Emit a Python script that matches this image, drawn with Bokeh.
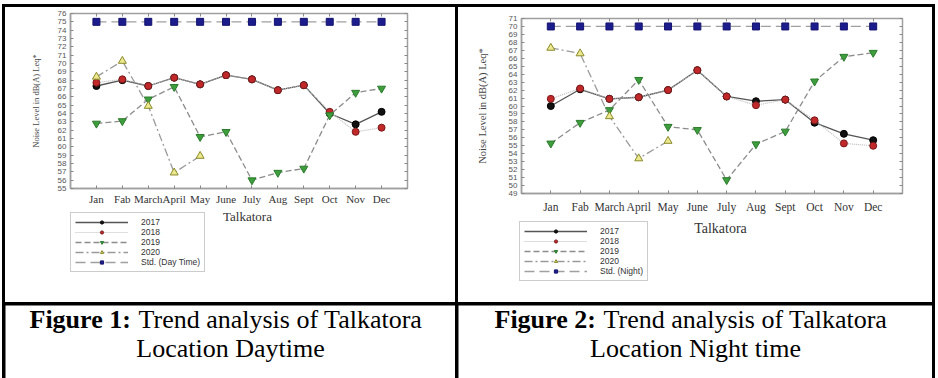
from bokeh.plotting import figure
from bokeh.layouts import row, column
from bokeh.models import (Legend, LegendItem, FixedTicker, Range1d, LinearAxis,
                          ColumnDataSource, Label)
from bokeh.embed import file_html
from bokeh.resources import INLINE

# ---- data -------------------------------------------------------------
months = ["Jan", "Fab", "March", "April", "May", "June", "July", "Aug",
          "Sept", "Oct", "Nov", "Dec"]
month_idx = list(range(1, 13))

# Daytime noise level, dB(A) Leq
day_2017 = [67.3, 68.0, 67.3, 68.3, 67.5, 68.6, 68.1, 66.8, 67.4, 64.0, 62.7, 64.2]
day_2018 = [67.7, 68.1, 67.3, 68.3, 67.5, 68.6, 68.1, 66.8, 67.4, 64.2, 61.8, 62.3]
day_2019 = [62.8, 63.1, 65.7, 67.2, 61.2, 61.8, 56.0, 56.9, 57.4, 63.8, 66.5, 67.0]
day_2020 = [68.4, 70.3, 64.9, 56.9, 58.9]
day_std = [75, 75, 75, 75, 75, 75, 75, 75, 75, 75, 75, 75]

# Night time noise level, dB(A) Leq
night_2017 = [60.0, 62.1, 60.9, 61.1, 62.0, 64.5, 61.2, 60.6, 60.8, 57.9, 56.5, 55.7]
night_2018 = [60.9, 62.2, 60.9, 61.1, 62.0, 64.5, 61.2, 60.1, 60.8, 58.2, 55.3, 55.0]
night_2019 = [55.3, 57.9, 59.5, 63.3, 57.4, 57.0, 50.7, 55.2, 56.8, 63.1, 66.2, 66.7]
night_2020 = [67.3, 66.6, 58.7, 53.4, 55.6]
night_std = [70, 70, 70, 70, 70, 70, 70, 70, 70, 70, 70, 70]

day_ticks = list(range(55, 77))
night_ticks = list(range(49, 72))

FRAME = "#a0a0a0"
SERIF = "Liberation Serif"
SANS = "Liberation Sans"
NAN = float("nan")


def series_styles(std_label):
    return [
        ("2017", dict(line_color="#555555", line_width=1.3),
         dict(marker="circle", size=7, fill_color="#111111",
              line_color="#000000")),
        ("2018", dict(line_color="#bdbdbd", line_width=1.2, line_dash="1 1"),
         dict(marker="circle", size=7, fill_color="#c0282a",
              line_color="#7a1a1a")),
        ("2019", dict(line_color="#8c8c8c", line_width=1.3, line_dash="6 3"),
         dict(marker="inverted_triangle", size=8, fill_color="#3e9e3e",
              line_color="#2a7a2a")),
        ("2020", dict(line_color="#9a9a9a", line_width=1.3,
                      line_dash="8 3 2 3"),
         dict(marker="triangle", size=8, fill_color="#ece88e",
              line_color="#8a8a2a")),
        (std_label, dict(line_color="#a0a0a0", line_width=1.3,
                         line_dash="10 5"),
         dict(marker="square", size=7, fill_color="#1c1c8c",
              line_color="#141470")),
    ]


def blank_figure(w, h):
    f = figure(width=w, height=h, x_range=(0, 1), y_range=(0, 1),
               toolbar_location=None, output_backend="svg",
               x_axis_type=None, y_axis_type=None, min_border=0,
               frame_align=False)
    f.grid.visible = False
    f.outline_line_color = None
    f.border_fill_color = "white"
    f.background_fill_color = "white"
    return f


def tick_only_axis(ticks):
    # draws only inward tick marks on the far side of the frame
    return LinearAxis(ticker=FixedTicker(ticks=ticks),
                      major_label_text_font_size="0px",
                      major_label_text_color=None,
                      major_tick_in=3, major_tick_out=0,
                      major_tick_line_color="#888888",
                      minor_tick_line_color=None, axis_line_color=None)


def trend_chart(w, h, borders, y_lo, y_hi, yticks, values, styles,
                xfont, ylab_font, ylab_standoff, xtick_standoff):
    left, top, right, bottom = borders
    p = figure(width=w, height=h, x_range=Range1d(0, 13),
               y_range=Range1d(y_lo, y_hi), toolbar_location=None,
               output_backend="svg", min_border_left=left,
               min_border_top=top, min_border_right=right,
               min_border_bottom=bottom, frame_align=False)
    p.grid.visible = False
    p.outline_line_color = FRAME
    p.outline_line_width = 1.5
    p.background_fill_color = "white"
    p.border_fill_color = "white"

    xax = p.xaxis[0]
    xax.ticker = FixedTicker(ticks=month_idx)
    xax.major_label_overrides = {i: m for i, m in zip(month_idx, months)}
    xax.major_label_text_font = SERIF
    xax.major_label_text_font_size = xfont
    xax.major_label_text_color = "#333333"
    xax.major_label_standoff = xtick_standoff

    yax = p.yaxis[0]
    yax.ticker = FixedTicker(ticks=yticks)
    yax.major_label_text_font = SANS
    yax.major_label_text_font_size = "8px"
    yax.major_label_text_color = "#555555"
    yax.major_label_standoff = 4
    yax.axis_label = "Noise Level in dB(A) Leq*"
    yax.axis_label_text_font = SERIF
    yax.axis_label_text_font_style = "normal"
    yax.axis_label_text_font_size = ylab_font
    yax.axis_label_text_color = "#444444"
    yax.axis_label_standoff = ylab_standoff

    for ax in (xax, yax):
        ax.axis_line_color = FRAME
        ax.axis_line_width = 1.5
        ax.major_tick_in = 3
        ax.major_tick_out = 0
        ax.major_tick_line_color = "#888888"
        ax.minor_tick_line_color = None

    p.add_layout(tick_only_axis(month_idx), "above")
    p.add_layout(tick_only_axis(yticks), "right")

    for vals, (_, line_kw, mark_kw) in zip(values, styles):
        src = ColumnDataSource(dict(x=month_idx[:len(vals)], y=vals))
        p.line("x", "y", source=src, **line_kw)
        p.scatter("x", "y", source=src, **mark_kw)
    return p


def key_panel(w, h, styles, loc, glyph_w, pad, font,
              title_x, title_y, title_font):
    # legend swatches and the x-axis title that sit under a chart
    k = blank_figure(w, h)
    items = []
    for label, line_kw, mark_kw in styles:
        src = ColumnDataSource(dict(x=[NAN], y=[NAN]))
        lr = k.line("x", "y", source=src, **line_kw)
        mr = k.scatter("x", "y", source=src, **mark_kw)
        items.append(LegendItem(label=label, renderers=[lr, mr]))
    k.add_layout(Legend(items=items, location=loc, glyph_width=glyph_w,
                        glyph_height=8, label_height=8, spacing=0,
                        padding=pad, margin=0, label_standoff=13,
                        label_text_font=SANS, label_text_font_size=font,
                        label_text_color="#333333",
                        label_text_line_height=1.0,
                        border_line_color="#999999", border_line_width=1,
                        background_fill_color="white",
                        background_fill_alpha=1))
    k.add_layout(Label(x=title_x, y=title_y, x_units="screen",
                       y_units="screen", text="Talkatora", text_font=SERIF,
                       text_font_size=title_font, text_color="#333333",
                       text_align="center", text_baseline="alphabetic"))
    return k


day_styles = series_styles("Std. (Day Time)")
night_styles = series_styles("Std. (Night)")

p_day = trend_chart(
    450, 203, (65, 6, 48, 22), 55, 76, day_ticks,
    [day_2017, day_2018, day_2019, day_2020, day_std], day_styles,
    "11px", "8.5px", 14, 4)
k_day = key_panel(450, 92, day_styles, (65, 30), 53, 4, "8.5px",
                  242, 86, "13px")

p_night = trend_chart(
    474, 210, (63, 11, 30, 24), 49, 71, night_ticks,
    [night_2017, night_2018, night_2019, night_2020, night_std], night_styles,
    "11.5px", "10.5px", 18, 7)
k_night = key_panel(474, 85, night_styles, (61, 21), 63, 4, "8.5px",
                    262, 74, "14px")


def caption(w, bold, rest, line2, x0, bold_w):
    c = blank_figure(w, 73)
    fs = "26px"
    c.add_layout(Label(x=x0, y=59, x_units="screen", y_units="screen",
                       text=bold, text_font=SERIF, text_font_style="bold",
                       text_font_size=fs, text_color="black",
                       text_baseline="alphabetic"))
    c.add_layout(Label(x=x0 + bold_w, y=59, x_units="screen",
                       y_units="screen", text=rest, text_font=SERIF,
                       text_font_size=fs, text_color="black",
                       text_baseline="alphabetic"))
    c.add_layout(Label(x=w / 2, y=30, x_units="screen", y_units="screen",
                       text=line2, text_font=SERIF, text_font_size=fs,
                       text_color="black", text_align="center",
                       text_baseline="alphabetic"))
    return c


cap1 = caption(450, "Figure 1:", "Trend analysis of Talkatora",
               "Location Daytime", 24, 109)
cap2 = caption(474, "Figure 2:", "Trend analysis of Talkatora",
               "Location Night time", 36, 109)

white = {"background-color": "white"}
layout = column(
    row(column(p_day, k_day, spacing=0, styles=white),
        column(p_night, k_night, spacing=0, styles=white),
        spacing=3),
    row(cap1, cap2, spacing=3),
    spacing=3,
    margin=(4, 0, 0, 2),
    styles={"background-color": "black", "padding": "3px 3px 0px 3px"},
)

with open("out.html", "w") as f:
    f.write(file_html(layout, INLINE))
